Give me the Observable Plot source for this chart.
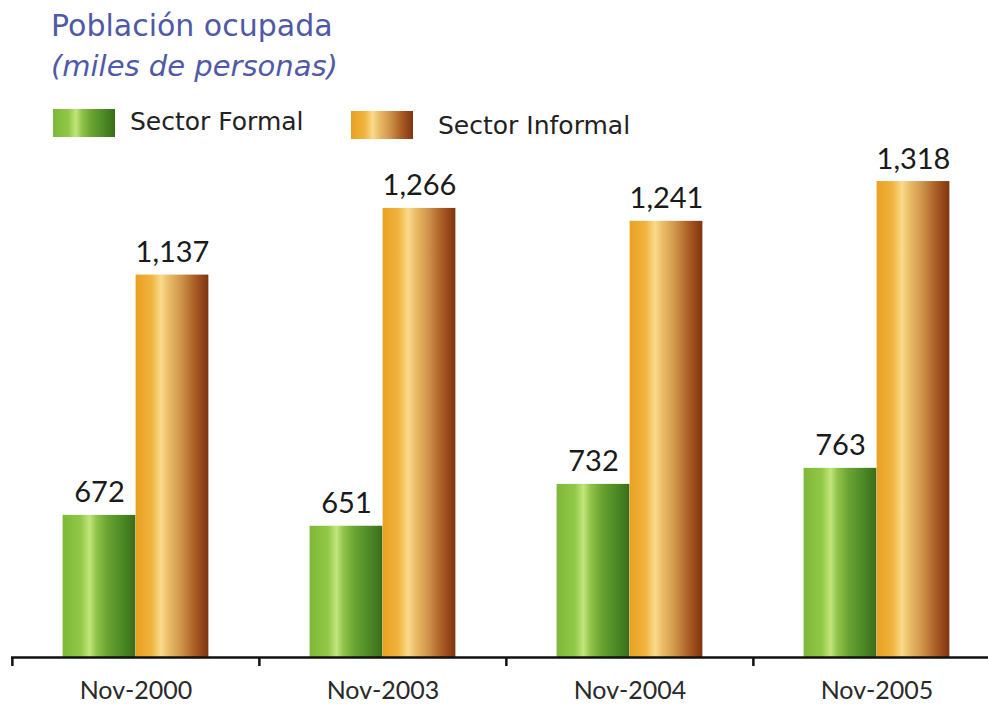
<!DOCTYPE html>
<html><head><meta charset="utf-8">
<script src="https://cdn.jsdelivr.net/npm/d3@7"></script>
<script src="https://cdn.jsdelivr.net/npm/@observablehq/plot@0.6"></script>
<style>
html,body{margin:0;padding:0;background:#fff;overflow:hidden;}
#wrap{position:relative;width:988px;height:707px;font-family:"DejaVu Sans",sans-serif;}
#chart{position:absolute;left:0;top:0;}
.ov{position:absolute;white-space:nowrap;line-height:1;}
#t1{left:51px;top:11px;color:#5059a6;font-size:30px;}
#t2{left:51px;top:52px;color:#5059a6;font-size:29px;font-style:italic;}
.leg{font-size:25px;color:#222;}
.sw{position:absolute;width:62px;height:28px;}
.gF{background:linear-gradient(to right,#7db83a 0%,#92c847 25%,#c2e57c 37%,#8fc249 47%,#6aa332 62%,#4f8c27 80%,#3a6e1a 100%);}
.gI{background:linear-gradient(to right,#e9a020 0%,#f0b440 22%,#f9db8c 35%,#e9bb66 46%,#d0964c 62%,#a95b24 82%,#7e3410 100%);}
</style></head><body>
<div id="wrap">
  <div id="chart"></div>
  <div class="ov" id="t1">Población ocupada</div>
  <div class="ov" id="t2">(miles de personas)</div>
  <div class="sw gF" style="left:53px;top:109px"></div>
  <div class="ov leg" style="left:130px;top:109px">Sector Formal</div>
  <div class="sw gI" style="left:351px;top:111px"></div>
  <div class="ov leg" style="left:438px;top:113px">Sector Informal</div>
</div>
<script>
const categories = ["Nov-2000", "Nov-2003", "Nov-2004", "Nov-2005"];
const seriesNames = ["Sector Formal", "Sector Informal"];
const formalValues = [672, 651, 732, 763];
const informalValues = [1137, 1266, 1241, 1318];

const formalData = categories.map((c, i) => ({cat: c, series: seriesNames[0], value: formalValues[i]}));
const informalData = categories.map((c, i) => ({cat: c, series: seriesNames[1], value: informalValues[i]}));

const W = 988, H = 707, mL = 11, mR = -12, mT = 87, mB = 50;
const yBase = 397, yTop = 1500;
const bw = (W - mL - mR) / categories.length;
const barW = 73;
const pxPerUnit = (H - mT - mB) / (yTop - yBase);
const tickLen = 9;
const fmt = d3.format(",");

const plot = Plot.plot({
  width: W, height: H,
  marginLeft: mL, marginRight: mR, marginTop: mT, marginBottom: mB,
  style: {fontFamily: "Lato, 'Noto Sans', sans-serif", background: "none"},
  x: {domain: categories, padding: 0, axis: null},
  y: {domain: [yBase, yTop], axis: null},
  color: {domain: seriesNames, range: ["url(#gFormal)", "url(#gInformal)"]},
  marks: [
    Plot.barY(formalData, {x: "cat", y1: yBase, y2: "value", fill: "series", insetLeft: bw / 2 - barW, insetRight: bw / 2}),
    Plot.barY(informalData, {x: "cat", y1: yBase, y2: "value", fill: "series", insetLeft: bw / 2, insetRight: bw / 2 - barW}),
    Plot.text(formalData, {x: "cat", y: "value", text: d => fmt(d.value), dx: -barW / 2, dy: -13, lineAnchor: "bottom", fontSize: 29, fill: "#1a1a1a"}),
    Plot.text(informalData, {x: "cat", y: "value", text: d => fmt(d.value), dx: barW / 2, dy: -13, lineAnchor: "bottom", fontSize: 29, fill: "#1a1a1a"}),
    Plot.ruleY([yBase], {stroke: "#111", strokeWidth: 2.5}),
    Plot.ruleX(categories, {x: d => d, dx: -bw / 2, y1: () => yBase, y2: () => yBase - tickLen / pxPerUnit, stroke: "#111", strokeWidth: 2.5}),
    Plot.text(categories, {x: d => d, frameAnchor: "bottom", dy: 41, fontSize: 25, fill: "#2a2a2a"})
  ]
});

const ns = "http://www.w3.org/2000/svg";
const defs = document.createElementNS(ns, "defs");
defs.innerHTML = `
<linearGradient id="gFormal" x1="0" x2="1" y1="0" y2="0">
  <stop offset="0" stop-color="#7db83a"/><stop offset="0.25" stop-color="#92c847"/>
  <stop offset="0.37" stop-color="#c2e57c"/><stop offset="0.47" stop-color="#8fc249"/>
  <stop offset="0.62" stop-color="#6aa332"/><stop offset="0.8" stop-color="#4f8c27"/>
  <stop offset="1" stop-color="#3a6e1a"/>
</linearGradient>
<linearGradient id="gInformal" x1="0" x2="1" y1="0" y2="0">
  <stop offset="0" stop-color="#e9a020"/><stop offset="0.22" stop-color="#f0b440"/>
  <stop offset="0.35" stop-color="#f9db8c"/><stop offset="0.46" stop-color="#e9bb66"/>
  <stop offset="0.62" stop-color="#d0964c"/><stop offset="0.82" stop-color="#a95b24"/>
  <stop offset="1" stop-color="#7e3410"/>
</linearGradient>`;
plot.insertBefore(defs, plot.firstChild);
document.getElementById("chart").appendChild(plot);
</script>
</body></html>
